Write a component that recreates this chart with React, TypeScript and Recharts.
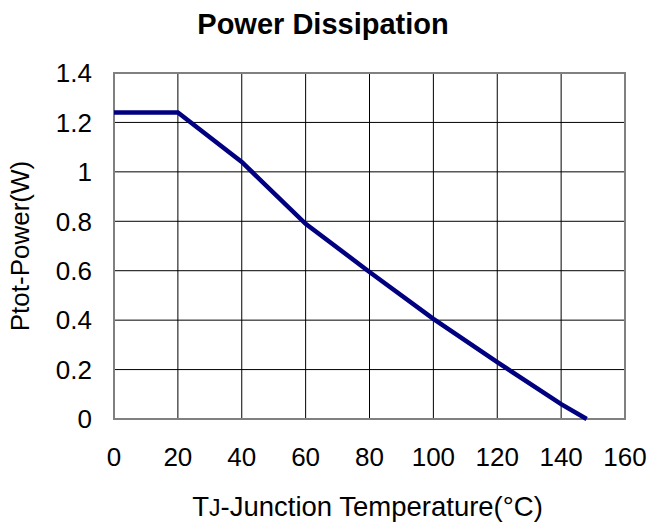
import React from "react";
import {
  LineChart,
  Line,
  XAxis,
  YAxis,
  CartesianGrid,
  ReferenceArea,
  Label,
} from "recharts";

// Tj (°C) vs Ptot (W)
const junctionTemp = [0, 20, 40, 60, 80, 100, 120, 140, 148];
const powerW = [1.24, 1.24, 1.04, 0.79, 0.595, 0.405, 0.23, 0.06, 0];

const xTicks = [0, 20, 40, 60, 80, 100, 120, 140, 160];
const yTicks = [0, 0.2, 0.4, 0.6, 0.8, 1, 1.2, 1.4];

const FONT = "'Liberation Sans', Arial, sans-serif";

const data = junctionTemp.map((t, i) => ({ t, p: powerW[i] }));

const XLabel = (props: any) => {
  const vb = props.viewBox || {};
  const cx = vb.x + vb.width / 2 - 2;
  const y = vb.y + vb.height - 10;
  return (
    <text x={cx} y={y} textAnchor="middle" fontFamily={FONT} fontSize={27.5} fill="#000">
      T<tspan fontSize={23}>J</tspan>-Junction Temperature(°C)
    </text>
  );
};

export default function App() {
  return (
    <div
      style={{
        position: "absolute",
        left: 0,
        top: 0,
        width: 652,
        height: 526,
        background: "#fff",
        fontFamily: FONT,
      }}
    >
      <div
        style={{
          position: "absolute",
          left: 0,
          top: 10,
          width: 646,
          textAlign: "center",
          fontWeight: "bold",
          fontSize: 29,
          lineHeight: 1,
          color: "#000",
        }}
      >
        Power Dissipation
      </div>
      <LineChart
        width={652}
        height={526}
        data={data}
        margin={{ top: 73, right: 27, bottom: 0, left: 0 }}
      >
        <CartesianGrid stroke="#000" strokeWidth={1} />
        <XAxis
          dataKey="t"
          type="number"
          domain={[0, 160]}
          ticks={xTicks}
          height={107}
          axisLine={false}
          tickLine={false}
          tickSize={0}
          tickMargin={29}
          tick={{ fill: "#000", fontSize: 26, fontFamily: FONT }}
        >
          <Label content={XLabel} />
        </XAxis>
        <YAxis
          type="number"
          domain={[0, 1.4]}
          ticks={yTicks}
          width={114}
          axisLine={false}
          tickLine={false}
          tickSize={0}
          tickMargin={22}
          tick={{ fill: "#000", fontSize: 26, fontFamily: FONT }}
          label={{
            value: "Ptot-Power(W)",
            angle: -90,
            position: "insideLeft",
            offset: 20,
            style: { textAnchor: "middle", fill: "#000", fontSize: 26, fontFamily: FONT },
          }}
        />
        <ReferenceArea
          x1={0}
          x2={160}
          y1={0}
          y2={1.4}
          fill="none"
          stroke="#808080"
          strokeWidth={2}
        />
        <Line
          type="linear"
          dataKey="p"
          stroke="#000080"
          strokeWidth={4.5}
          dot={false}
          isAnimationActive={false}
        />
      </LineChart>
    </div>
  );
}
